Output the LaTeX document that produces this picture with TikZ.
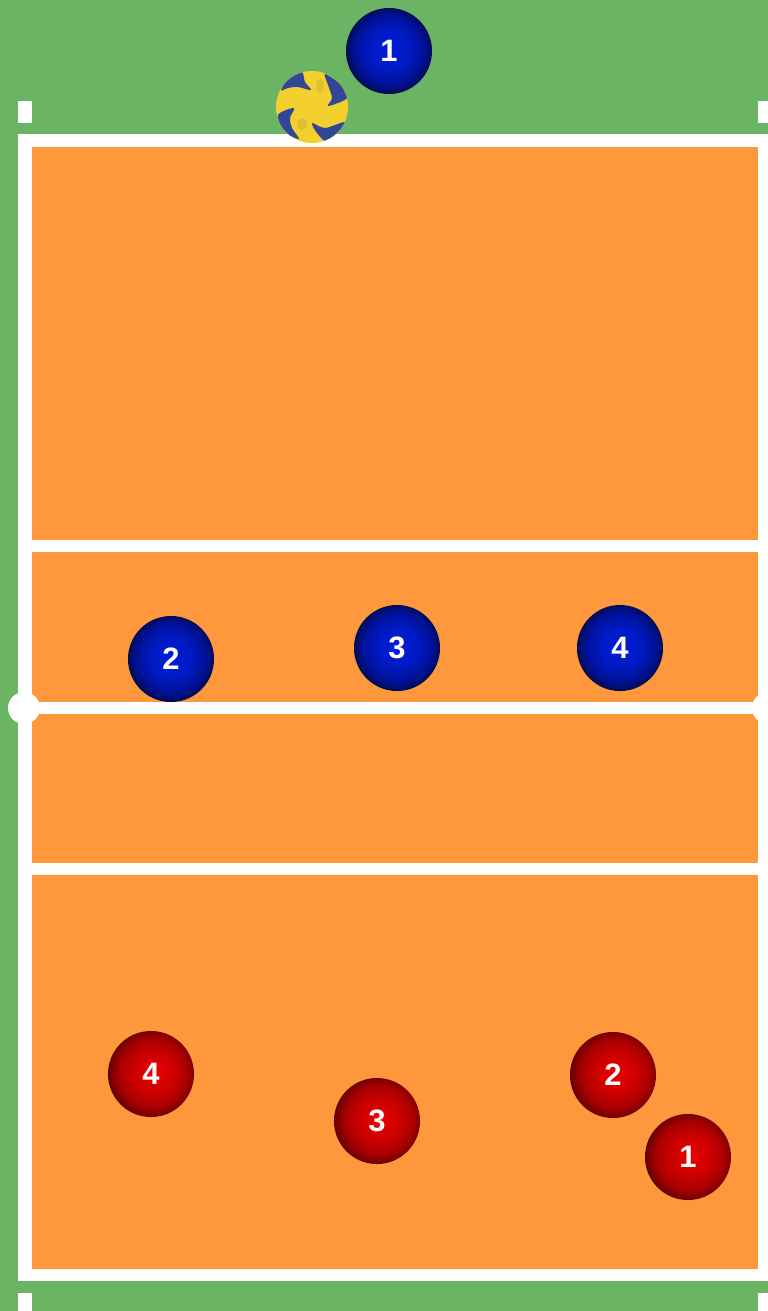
\documentclass[tikz,border=0pt]{standalone}
\usepackage{fontspec}
\setmainfont{Liberation Sans}

\definecolor{grass}{RGB}{107,180,100}
\definecolor{court}{RGB}{255,152,60}
\definecolor{ballyellow}{RGB}{244,208,46}
\definecolor{ballblue}{RGB}{50,70,150}
\definecolor{ballmark}{RGB}{222,192,50}

\pgfdeclareradialshading{blueplayer}{\pgfpoint{0bp}{1bp}}{%
  rgb(0bp)=(0,0.12,0.86);
  rgb(12bp)=(0,0.10,0.76);
  rgb(20bp)=(0,0.07,0.60);
  rgb(24bp)=(0,0.05,0.40);
  rgb(26.5bp)=(0,0.03,0.18);
  rgb(28bp)=(0.02,0.02,0.08);
  rgb(50bp)=(0.02,0.02,0.08)}
\pgfdeclareradialshading{redplayer}{\pgfpoint{2bp}{1bp}}{%
  rgb(0bp)=(0.93,0,0);
  rgb(12bp)=(0.80,0,0);
  rgb(20bp)=(0.66,0,0);
  rgb(25bp)=(0.45,0,0);
  rgb(28bp)=(0.18,0,0);
  rgb(30bp)=(0.05,0.02,0.02);
  rgb(50bp)=(0.05,0.02,0.02)}

\tikzset{
  player/.style={circle,minimum size=0.86cm,inner sep=0pt,text=white,
    font=\fontsize{8.8}{10}\selectfont\bfseries},
  blueteam/.style={player,shading=blueplayer},
  redteam/.style={player,shading=redplayer},
  courtline/.style={fill=white,draw=none},
  patch/.style={fill=ballblue,draw=none}
}

\begin{document}
\begin{tikzpicture}[x=0.01cm,y=-0.01cm]
\useasboundingbox (0,0) rectangle (768,1311);
% ground and court
\fill[grass] (0,0) rectangle (768,1311);
\fill[courtline] (18,134) rectangle (768,1281);
\fill[court] (32,147) rectangle (758,1269);
% lines across the court
\fill[courtline] (32,540) rectangle (758,552);
\fill[courtline] (32,702) rectangle (758,714);
\fill[courtline] (32,863) rectangle (758,875);
% posts and ticks
\fill[courtline] (24,708) circle (16);
\fill[courtline] (768,708) circle (16);
\fill[courtline] (18,101) rectangle (32,123);
\fill[courtline] (758,101) rectangle (768,123);
\fill[courtline] (18,1293) rectangle (32,1311);
\fill[courtline] (758,1293) rectangle (768,1311);
% match ball
\fill[ballyellow] (312,107) circle (36);
\begin{scope}
\clip (312,107) circle (36);
\fill[patch] plot[smooth cycle,tension=0.5] coordinates {(281,90) (291,75) (302,72) (305,82) (311,90) (298,87) (288,88)};
\fill[patch] plot[smooth cycle,tension=0.5] coordinates {(325,74) (340,84) (347,98) (328,106) (332,98) (328,85)};
\fill[patch] plot[smooth cycle,tension=0.5] coordinates {(278,115) (294,108) (290,118) (292,128) (299,139) (285,132)};
\fill[patch] plot[smooth cycle,tension=0.5] coordinates {(312,123) (325,128) (345,122) (339,134) (327,142) (317,133)};
\end{scope}
\fill[ballmark] (320,86) ellipse (4 and 7);
\fill[ballmark] (302,124) ellipse (5 and 6);
% blue team
\node[blueteam] (blue1) at (389,51) {1};
\node[blueteam] (blue2) at (171,659) {2};
\node[blueteam] (blue3) at (397,648) {3};
\node[blueteam] (blue4) at (620,648) {4};
% red team
\node[redteam] (red1) at (688,1157) {1};
\node[redteam] (red2) at (613,1075) {2};
\node[redteam] (red3) at (377,1121) {3};
\node[redteam] (red4) at (151,1074) {4};
\end{tikzpicture}
\end{document}
